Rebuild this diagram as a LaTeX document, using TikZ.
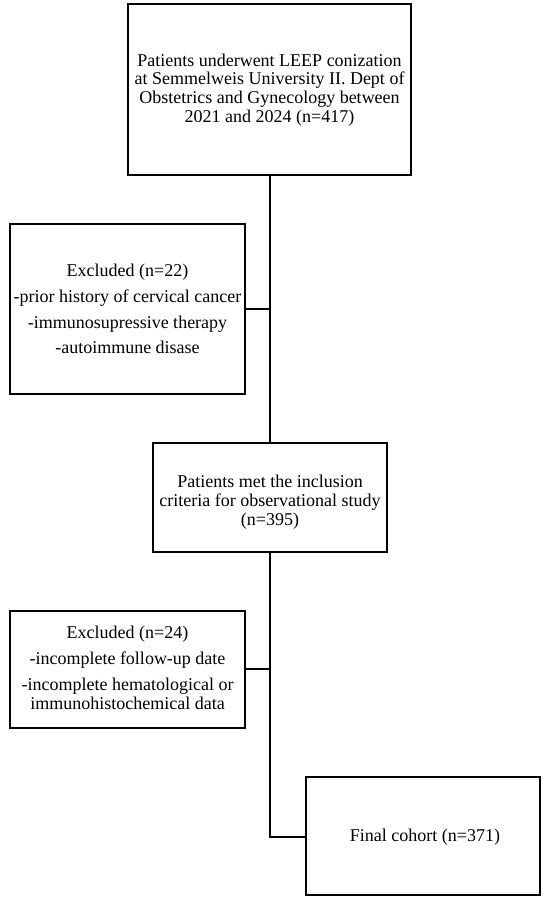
\documentclass[tikz,border=0pt]{standalone}
\usepackage{fontspec}
\setmainfont{Liberation Serif}
\begin{document}
\begin{tikzpicture}[x=1pt,y=-1pt,
  boxst/.style={draw=black,line width=1.5pt,fill=white},
  txt/.style={align=center,font=\fontsize{18}{18.7}\selectfont,inner sep=0pt},
  conn/.style={draw=black,line width=1.5pt}]
\useasboundingbox (0,0) rectangle (550,905);
% boxes
\draw[boxst] (128,4) rectangle (411,175);
\draw[boxst] (10,224) rectangle (245,394);
\draw[boxst] (153,443) rectangle (387,552);
\draw[boxst] (10,611) rectangle (245,728);
\draw[boxst] (306,777) rectangle (540,895);
\coordinate (b1b) at (270,175);
\coordinate (b2r) at (245,309);
\coordinate (b3t) at (270,443);
\coordinate (b3b) at (270,552);
\coordinate (b4r) at (245,669);
\coordinate (b5l) at (306,837);
\coordinate (j2) at (270,309);
\coordinate (j4) at (270,669);
\coordinate (j5) at (270,837);
\node[txt] (t1) at (269.5,90) {Patients underwent LEEP conization\\at Semmelweis University II. Dept of\\Obstetrics and Gynecology between\\2021 and 2024 (n=417)};
\node[txt] (t2) at (127.5,309) {Excluded (n=22)\\[7pt]-prior history of cervical cancer\\[7pt]-immunosupressive therapy\\[7pt]-autoimmune disase};
\node[txt] (t3) at (270,502) {Patients met the inclusion\\criteria for observational study\\(n=395)};
\node[txt] (t4) at (127.5,668) {Excluded (n=24)\\[7.3pt]-incomplete follow-up date\\[7.3pt]-incomplete hematological or\\immunohistochemical data};
\node[txt] (t5) at (425,837) {Final cohort (n=371)};
\draw[conn] (b1b) -- (b3t);
\draw[conn] (b2r) -- (j2);
\draw[conn] (b3b) -- (j5) -- (b5l);
\draw[conn] (b4r) -- (j4);
\end{tikzpicture}
\end{document}
